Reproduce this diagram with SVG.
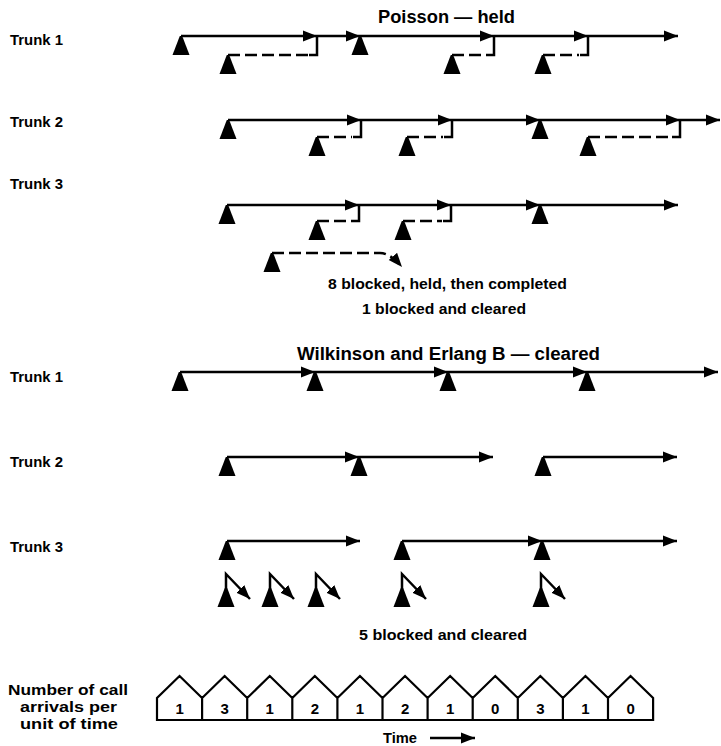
<svg xmlns="http://www.w3.org/2000/svg" width="721" height="746" viewBox="0 0 721 746">
<defs>
<marker id="ah" markerUnits="userSpaceOnUse" markerWidth="16" markerHeight="13" refX="14" refY="6" orient="auto"><path d="M0,0.5 L14,6 L0,11.5 Z" fill="#000"/></marker>
<path id="tri" d="M-1.2,0 L1.2,0 L8.5,19 L-8.5,19 Z" fill="#000"/>
</defs>
<style>
.ln{stroke:#000;stroke-width:2.5;fill:none}
.ar{marker-end:url(#ah)}
.ds{stroke-dasharray:12 5}
.t{font-family:"Liberation Sans",Arial,sans-serif;font-weight:bold;fill:#000}
.lab{font-size:15.5px}
.ttl{font-size:18px}
.mid{font-size:15.5px}
.num{font-size:15px;text-anchor:middle}
.box{stroke:#000;stroke-width:2.2;fill:none;stroke-linejoin:miter}
</style>
<rect width="721" height="746" fill="#fff"/>

<!-- Titles and labels -->
<g id="labels" class="t">
<text class="ttl" x="378" y="23" textLength="137" lengthAdjust="spacingAndGlyphs">Poisson — held</text>
<text class="lab" x="10" y="45" textLength="53" lengthAdjust="spacingAndGlyphs">Trunk 1</text>
<text class="lab" x="10" y="127" textLength="53" lengthAdjust="spacingAndGlyphs">Trunk 2</text>
<text class="lab" x="10" y="189" textLength="53" lengthAdjust="spacingAndGlyphs">Trunk 3</text>
<text class="mid" x="328" y="289" textLength="239" lengthAdjust="spacingAndGlyphs">8 blocked, held, then completed</text>
<text class="mid" x="362" y="314" textLength="164" lengthAdjust="spacingAndGlyphs">1 blocked and cleared</text>
<text class="ttl" x="297" y="360" textLength="303" lengthAdjust="spacingAndGlyphs">Wilkinson and Erlang B — cleared</text>
<text class="lab" x="10" y="382" textLength="53" lengthAdjust="spacingAndGlyphs">Trunk 1</text>
<text class="lab" x="10" y="467" textLength="53" lengthAdjust="spacingAndGlyphs">Trunk 2</text>
<text class="lab" x="10" y="552" textLength="53" lengthAdjust="spacingAndGlyphs">Trunk 3</text>
<text class="mid" x="359" y="640" textLength="168" lengthAdjust="spacingAndGlyphs">5 blocked and cleared</text>
<text class="lab" x="8" y="695" textLength="120" lengthAdjust="spacingAndGlyphs">Number of call</text>
<text class="lab" x="20" y="712" textLength="97" lengthAdjust="spacingAndGlyphs">arrivals per</text>
<text class="lab" x="20" y="729" textLength="98" lengthAdjust="spacingAndGlyphs">unit of time</text>
<text class="lab" x="383" y="743" textLength="34" lengthAdjust="spacingAndGlyphs">Time</text>
</g>

<!-- Call arrivals (nodes) -->
<g id="held-trunk1-calls">
<use href="#tri" x="181" y="36"/><use href="#tri" x="360" y="36"/>
<use href="#tri" x="228" y="55"/><use href="#tri" x="452" y="55"/><use href="#tri" x="543" y="55"/>
</g>
<g id="held-trunk2-calls">
<use href="#tri" x="228" y="120"/><use href="#tri" x="540" y="120"/>
<use href="#tri" x="317" y="137"/><use href="#tri" x="407" y="137"/><use href="#tri" x="588" y="137"/>
</g>
<g id="held-trunk3-calls">
<use href="#tri" x="227" y="205"/><use href="#tri" x="540" y="205"/>
<use href="#tri" x="317" y="221"/><use href="#tri" x="403" y="221"/>
<use href="#tri" x="272" y="253"/>
</g>
<g id="cleared-trunk1-calls">
<use href="#tri" x="180" y="372"/><use href="#tri" x="315" y="372"/><use href="#tri" x="448" y="372"/><use href="#tri" x="587" y="372"/>
</g>
<g id="cleared-trunk2-calls">
<use href="#tri" x="227" y="457"/><use href="#tri" x="359" y="457"/><use href="#tri" x="543" y="457"/>
</g>
<g id="cleared-trunk3-calls">
<use href="#tri" x="227" y="541"/><use href="#tri" x="402" y="541"/><use href="#tri" x="542" y="541"/>
</g>
<g id="cleared-blocked-calls">
<use href="#tri" x="226" y="588"/><use href="#tri" x="270" y="588"/><use href="#tri" x="316" y="588"/><use href="#tri" x="402" y="588"/><use href="#tri" x="541" y="588"/>
</g>

<!-- Call arrivals per unit of time -->
<g id="arrivals-strip">
<path class="box" d="M157,720 V698 L179.55,676 L202.1,698 L224.65,676 L247.2,698 L269.75,676 L292.3,698 L314.85,676 L337.4,698 L359.95,676 L382.5,698 L405.05,676 L427.6,698 L450.15,676 L472.7,698 L495.25,676 L517.8,698 L540.35,676 L562.9,698 L585.45,676 L608,698 L630.55,676 L653.1,698 V720 Z M202.1,698V720 M247.2,698V720 M292.3,698V720 M337.4,698V720 M382.5,698V720 M427.6,698V720 M472.7,698V720 M517.8,698V720 M562.9,698V720 M608,698V720"/>
<g class="t num">
<text x="179.55" y="714">1</text><text x="224.65" y="714">3</text><text x="269.75" y="714">1</text><text x="314.85" y="714">2</text><text x="359.95" y="714">1</text><text x="405.05" y="714">2</text><text x="450.15" y="714">1</text><text x="495.25" y="714">0</text><text x="540.35" y="714">3</text><text x="585.45" y="714">1</text><text x="630.55" y="714">0</text>
</g>
</g>

<!-- Connectors -->
<g id="connectors" class="ln">
<!-- held trunk 1 -->
<path class="ar" d="M181,36 H317"/><path class="ar" d="M317,36 H360"/><path class="ar" d="M360,36 H494"/><path class="ar" d="M494,36 H588"/><path class="ar" d="M588,36 H678"/>
<path class="ds" d="M228,55 H308"/><path d="M309,55 H317 V36"/>
<path class="ds" d="M452,55 H485"/><path d="M486,55 H494 V36"/>
<path class="ds" d="M543,55 H579"/><path d="M580,55 H588 V36"/>
<!-- held trunk 2 -->
<path class="ar" d="M228,120 H361"/><path class="ar" d="M361,120 H452"/><path class="ar" d="M452,120 H540"/><path class="ar" d="M540,120 H680"/><path class="ar" d="M680,120 H720"/>
<path class="ds" d="M317,137 H352"/><path d="M353,137 H361 V120"/>
<path class="ds" d="M407,137 H443"/><path d="M444,137 H452 V120"/>
<path class="ds" d="M588,137 H671"/><path d="M672,137 H680 V120"/>
<!-- held trunk 3 -->
<path class="ar" d="M227,205 H359"/><path class="ar" d="M359,205 H451"/><path class="ar" d="M451,205 H540"/><path class="ar" d="M540,205 H678"/>
<path class="ds" d="M317,221 H350"/><path d="M351,221 H359 V205"/>
<path class="ds" d="M403,221 H442"/><path d="M443,221 H451 V205"/>
<path class="ds ar" d="M272,253 H380 Q390,253 402,267"/>
<!-- cleared trunk 1 -->
<path class="ar" d="M180,372 H315"/><path class="ar" d="M315,372 H448"/><path class="ar" d="M448,372 H587"/><path class="ar" d="M587,372 H718"/>
<!-- cleared trunk 2 -->
<path class="ar" d="M227,457 H359"/><path class="ar" d="M359,457 H493"/><path class="ar" d="M543,457 H677"/>
<!-- cleared trunk 3 -->
<path class="ar" d="M227,541 H360"/><path class="ar" d="M402,541 H542"/><path class="ar" d="M542,541 H677"/>
<!-- blocked and cleared -->
<path class="ar" d="M226,590 V574 L250,599"/>
<path class="ar" d="M270,590 V574 L294,599"/>
<path class="ar" d="M316,590 V574 L340,599"/>
<path class="ar" d="M402,590 V574 L426,599"/>
<path class="ar" d="M541,590 V574 L565,599"/>
<!-- time arrow -->
<path class="ar" d="M430,738 H475"/>
</g>
</svg>
